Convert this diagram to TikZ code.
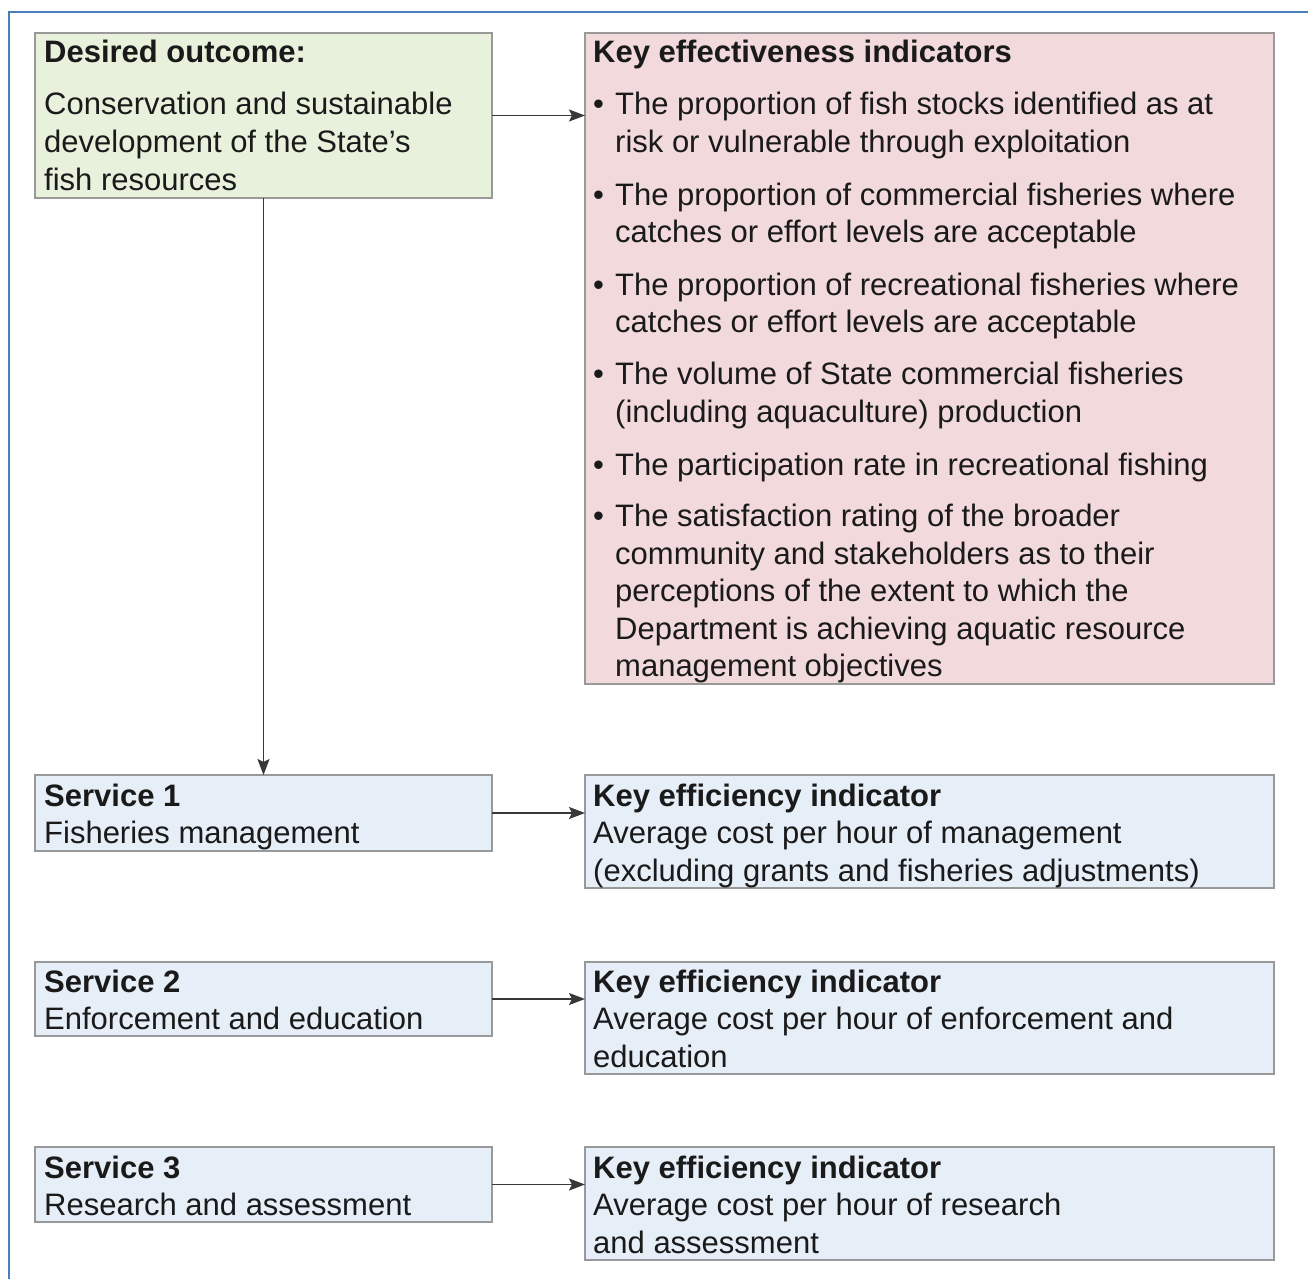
\documentclass[tikz,border=0pt]{standalone}
\usepackage{fontspec}
\setmainfont{Liberation Sans}
\usetikzlibrary{arrows.meta}

\definecolor{framecol}{HTML}{4A7EBB}
\definecolor{boxline}{HTML}{999999}
\definecolor{greenfill}{HTML}{E7F1DC}
\definecolor{pinkfill}{HTML}{F2D9DB}
\definecolor{bluefill}{HTML}{E6EEF8}
\definecolor{inkcol}{HTML}{1A1A1A}
\definecolor{arrowcol}{HTML}{383838}

\tikzset{
  panel/.style={draw=boxline, line width=1.6pt, inner sep=0pt, outer sep=0pt, anchor=north west},
  txt/.style={anchor=base west, inner sep=0pt, text=inkcol, font=\fontsize{31}{37.5}\selectfont},
  hdr/.style={txt, font=\fontsize{31}{37.5}\selectfont\bfseries},
  link/.style={draw=arrowcol, line width=1.8pt, -{Stealth[length=16pt, width=12pt, inset=3pt]}}
}

\begin{document}
\begin{tikzpicture}[x=1pt, y=-1pt]
\useasboundingbox (0,0) rectangle (1308,1279);

% outer frame (top and left edges)
\draw[framecol, line width=2.2pt] (9,1279) -- (9,12) -- (1308,12);

% boxes
\node[panel, fill=greenfill, minimum width=457pt, minimum height=165pt] (outcome) at (35,33) {};
\node[panel, fill=pinkfill, minimum width=689pt, minimum height=651pt] (effect) at (585,33) {};
\node[panel, fill=bluefill, minimum width=457pt, minimum height=76pt] (svc1) at (35,775) {};
\node[panel, fill=bluefill, minimum width=689pt, minimum height=113pt] (eff1) at (585,775) {};
\node[panel, fill=bluefill, minimum width=457pt, minimum height=74pt] (svc2) at (35,962) {};
\node[panel, fill=bluefill, minimum width=689pt, minimum height=112pt] (eff2) at (585,962) {};
\node[panel, fill=bluefill, minimum width=457pt, minimum height=75pt] (svc3) at (35,1147) {};
\node[panel, fill=bluefill, minimum width=689pt, minimum height=113pt] (eff3) at (585,1147) {};

% connectors
\draw[link] (outcome.east) -- (effect.west |- outcome.east);
\draw[link] (outcome.south) -- (svc1.north -| outcome.south);
\draw[link] (svc1.east) -- (eff1.west |- svc1.east);
\draw[link] (svc2.east) -- (eff2.west |- svc2.east);
\draw[link] (svc3.east) -- (eff3.west |- svc3.east);

% desired outcome
\node[hdr] (oh) at (44,63) {Desired outcome:};
\node[txt] (o1) at (44,115) {Conservation and sustainable};
\node[txt] (o2) at (44,152.5) {development of the State’s};
\node[txt] (o3) at (44,190) {fish resources};

% effectiveness indicators
\node[hdr] (eh) at (593,63) {Key effectiveness indicators};
\node[txt] (b1) at (593,115) {•};
\node[txt] (e1a) at (615,115) {The proportion of fish stocks identified as at};
\node[txt] (e1b) at (615,152.5) {risk or vulnerable through exploitation};
\node[txt] (b2) at (593,205) {•};
\node[txt] (e2a) at (615,205) {The proportion of commercial fisheries where};
\node[txt] (e2b) at (615,242.5) {catches or effort levels are acceptable};
\node[txt] (b3) at (593,295) {•};
\node[txt] (e3a) at (615,295) {The proportion of recreational fisheries where};
\node[txt] (e3b) at (615,332.5) {catches or effort levels are acceptable};
\node[txt] (b4) at (593,384.5) {•};
\node[txt] (e4a) at (615,384.5) {The volume of State commercial fisheries};
\node[txt] (e4b) at (615,422) {(including aquaculture) production};
\node[txt] (b5) at (593,475) {•};
\node[txt] (e5a) at (615,475) {The participation rate in recreational fishing};
\node[txt] (b6) at (593,526.5) {•};
\node[txt] (e6a) at (615,526.5) {The satisfaction rating of the broader};
\node[txt] (e6b) at (615,564) {community and stakeholders as to their};
\node[txt] (e6c) at (615,601.5) {perceptions of the extent to which the};
\node[txt] (e6d) at (615,639) {Department is achieving aquatic resource};
\node[txt] (e6e) at (615,676.5) {management objectives};

% service 1
\node[hdr] (s1h) at (44,806) {Service 1};
\node[txt] (s1t) at (44,843.5) {Fisheries management};
\node[hdr] (k1h) at (593,806) {Key efficiency indicator};
\node[txt] (k1a) at (593,843.5) {Average cost per hour of management};
\node[txt] (k1b) at (593,881) {(excluding grants and fisheries adjustments)};

% service 2
\node[hdr] (s2h) at (44,992) {Service 2};
\node[txt] (s2t) at (44,1029.5) {Enforcement and education};
\node[hdr] (k2h) at (593,992) {Key efficiency indicator};
\node[txt] (k2a) at (593,1029.5) {Average cost per hour of enforcement and};
\node[txt] (k2b) at (593,1067) {education};

% service 3
\node[hdr] (s3h) at (44,1178) {Service 3};
\node[txt] (s3t) at (44,1215.5) {Research and assessment};
\node[hdr] (k3h) at (593,1178) {Key efficiency indicator};
\node[txt] (k3a) at (593,1215.5) {Average cost per hour of research};
\node[txt] (k3b) at (593,1253) {and assessment};
\end{tikzpicture}
\end{document}
